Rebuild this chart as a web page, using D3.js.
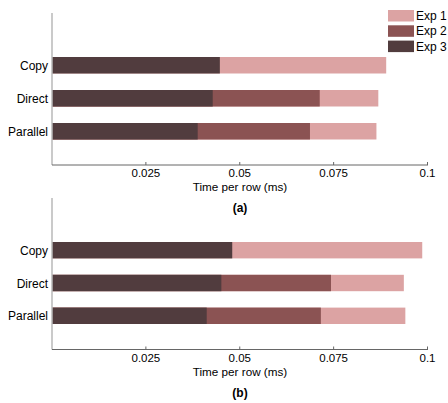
<html>
<head>
<script src="https://cdn.jsdelivr.net/npm/d3@7"></script>
<style>
  body { margin: 0; background: #fff; }
  text { font-family: "Liberation Sans", Arial, sans-serif; fill: #000; }
</style>
</head>
<body>
<div id="chart"></div>
<script>
  var categories = ["Copy", "Direct", "Parallel"];
  var series = ["Exp 1", "Exp 2", "Exp 3"];
  var colors = ["#dca3a3", "#8b5353", "#513c3e"];
  var ticks = [0.025, 0.05, 0.075, 0.1];

  // time per row (ms), each experiment drawn from zero, overlapping
  var panelA = {
    "Exp 1": [0.0890, 0.0869, 0.0864],
    "Exp 2": [null, 0.0713, 0.0687],
    "Exp 3": [0.0447, 0.0428, 0.0388]
  };
  var panelB = {
    "Exp 1": [0.0986, 0.0937, 0.0941],
    "Exp 2": [null, 0.0743, 0.0716],
    "Exp 3": [0.0480, 0.0451, 0.0412]
  };

  var svg = d3.select("#chart").append("svg")
    .attr("width", 448).attr("height", 403);

  var x = d3.scaleLinear().domain([0, 0.1]).range([52, 427.5]);

  function drawPanel(data, top, bottom, label) {
    var g = svg.append("g");
    var y = d3.scaleBand().domain(categories)
      .range([top + 44, bottom - 25.5]).paddingInner(0.5).paddingOuter(0);

    series.forEach(function (s, i) {
      g.selectAll(null)
        .data(data[s].map(function (v, j) { return { c: categories[j], v: v }; })
          .filter(function (d) { return d.v != null; }))
        .enter().append("rect")
        .attr("x", x(0))
        .attr("y", function (d) { return y(d.c); })
        .attr("width", function (d) { return x(d.v) - x(0); })
        .attr("height", y.bandwidth())
        .attr("fill", colors[i]);
    });

    // y axis
    g.append("line")
      .attr("x1", x(0)).attr("x2", x(0))
      .attr("y1", top).attr("y2", bottom)
      .attr("stroke", "#b8b8b8").attr("stroke-width", 1.5);

    g.selectAll(null).data(categories).enter().append("text")
      .attr("x", 48)
      .attr("y", function (d) { return y(d) + y.bandwidth() / 2 + 4.5; })
      .attr("text-anchor", "end")
      .style("font-size", "12px")
      .text(function (d) { return d; });

    // x axis
    g.append("line")
      .attr("x1", x(0)).attr("x2", x(0.1) + 0.5)
      .attr("y1", bottom).attr("y2", bottom)
      .attr("stroke", "#666").attr("stroke-width", 1);

    g.selectAll(null).data(ticks).enter().append("line")
      .attr("x1", function (d) { return x(d); })
      .attr("x2", function (d) { return x(d); })
      .attr("y1", bottom).attr("y2", bottom - 3)
      .attr("stroke", "#666");

    g.selectAll(null).data(ticks).enter().append("text")
      .attr("x", function (d) { return x(d); })
      .attr("y", bottom + 12)
      .attr("text-anchor", "middle")
      .style("font-size", "11.5px")
      .text(function (d) { return d3.format("")(d); });

    g.append("text")
      .attr("x", 240).attr("y", bottom + 26)
      .attr("text-anchor", "middle")
      .style("font-size", "11.7px")
      .text("Time per row (ms)");

    g.append("text")
      .attr("x", 240).attr("y", bottom + 47)
      .attr("text-anchor", "middle")
      .style("font-size", "12px")
      .style("font-weight", "bold")
      .text(label);
  }

  drawPanel(panelA, 13, 165, "(a)");
  drawPanel(panelB, 198, 349.5, "(b)");

  // legend
  var legend = svg.append("g");
  series.forEach(function (s, i) {
    legend.append("rect")
      .attr("x", 388).attr("y", 10 + i * 15.3)
      .attr("width", 26).attr("height", 11.5)
      .attr("fill", colors[i]);
    legend.append("text")
      .attr("x", 416).attr("y", 20 + i * 15.3)
      .style("font-size", "12px")
      .text(s);
  });
</script>
</body>
</html>
